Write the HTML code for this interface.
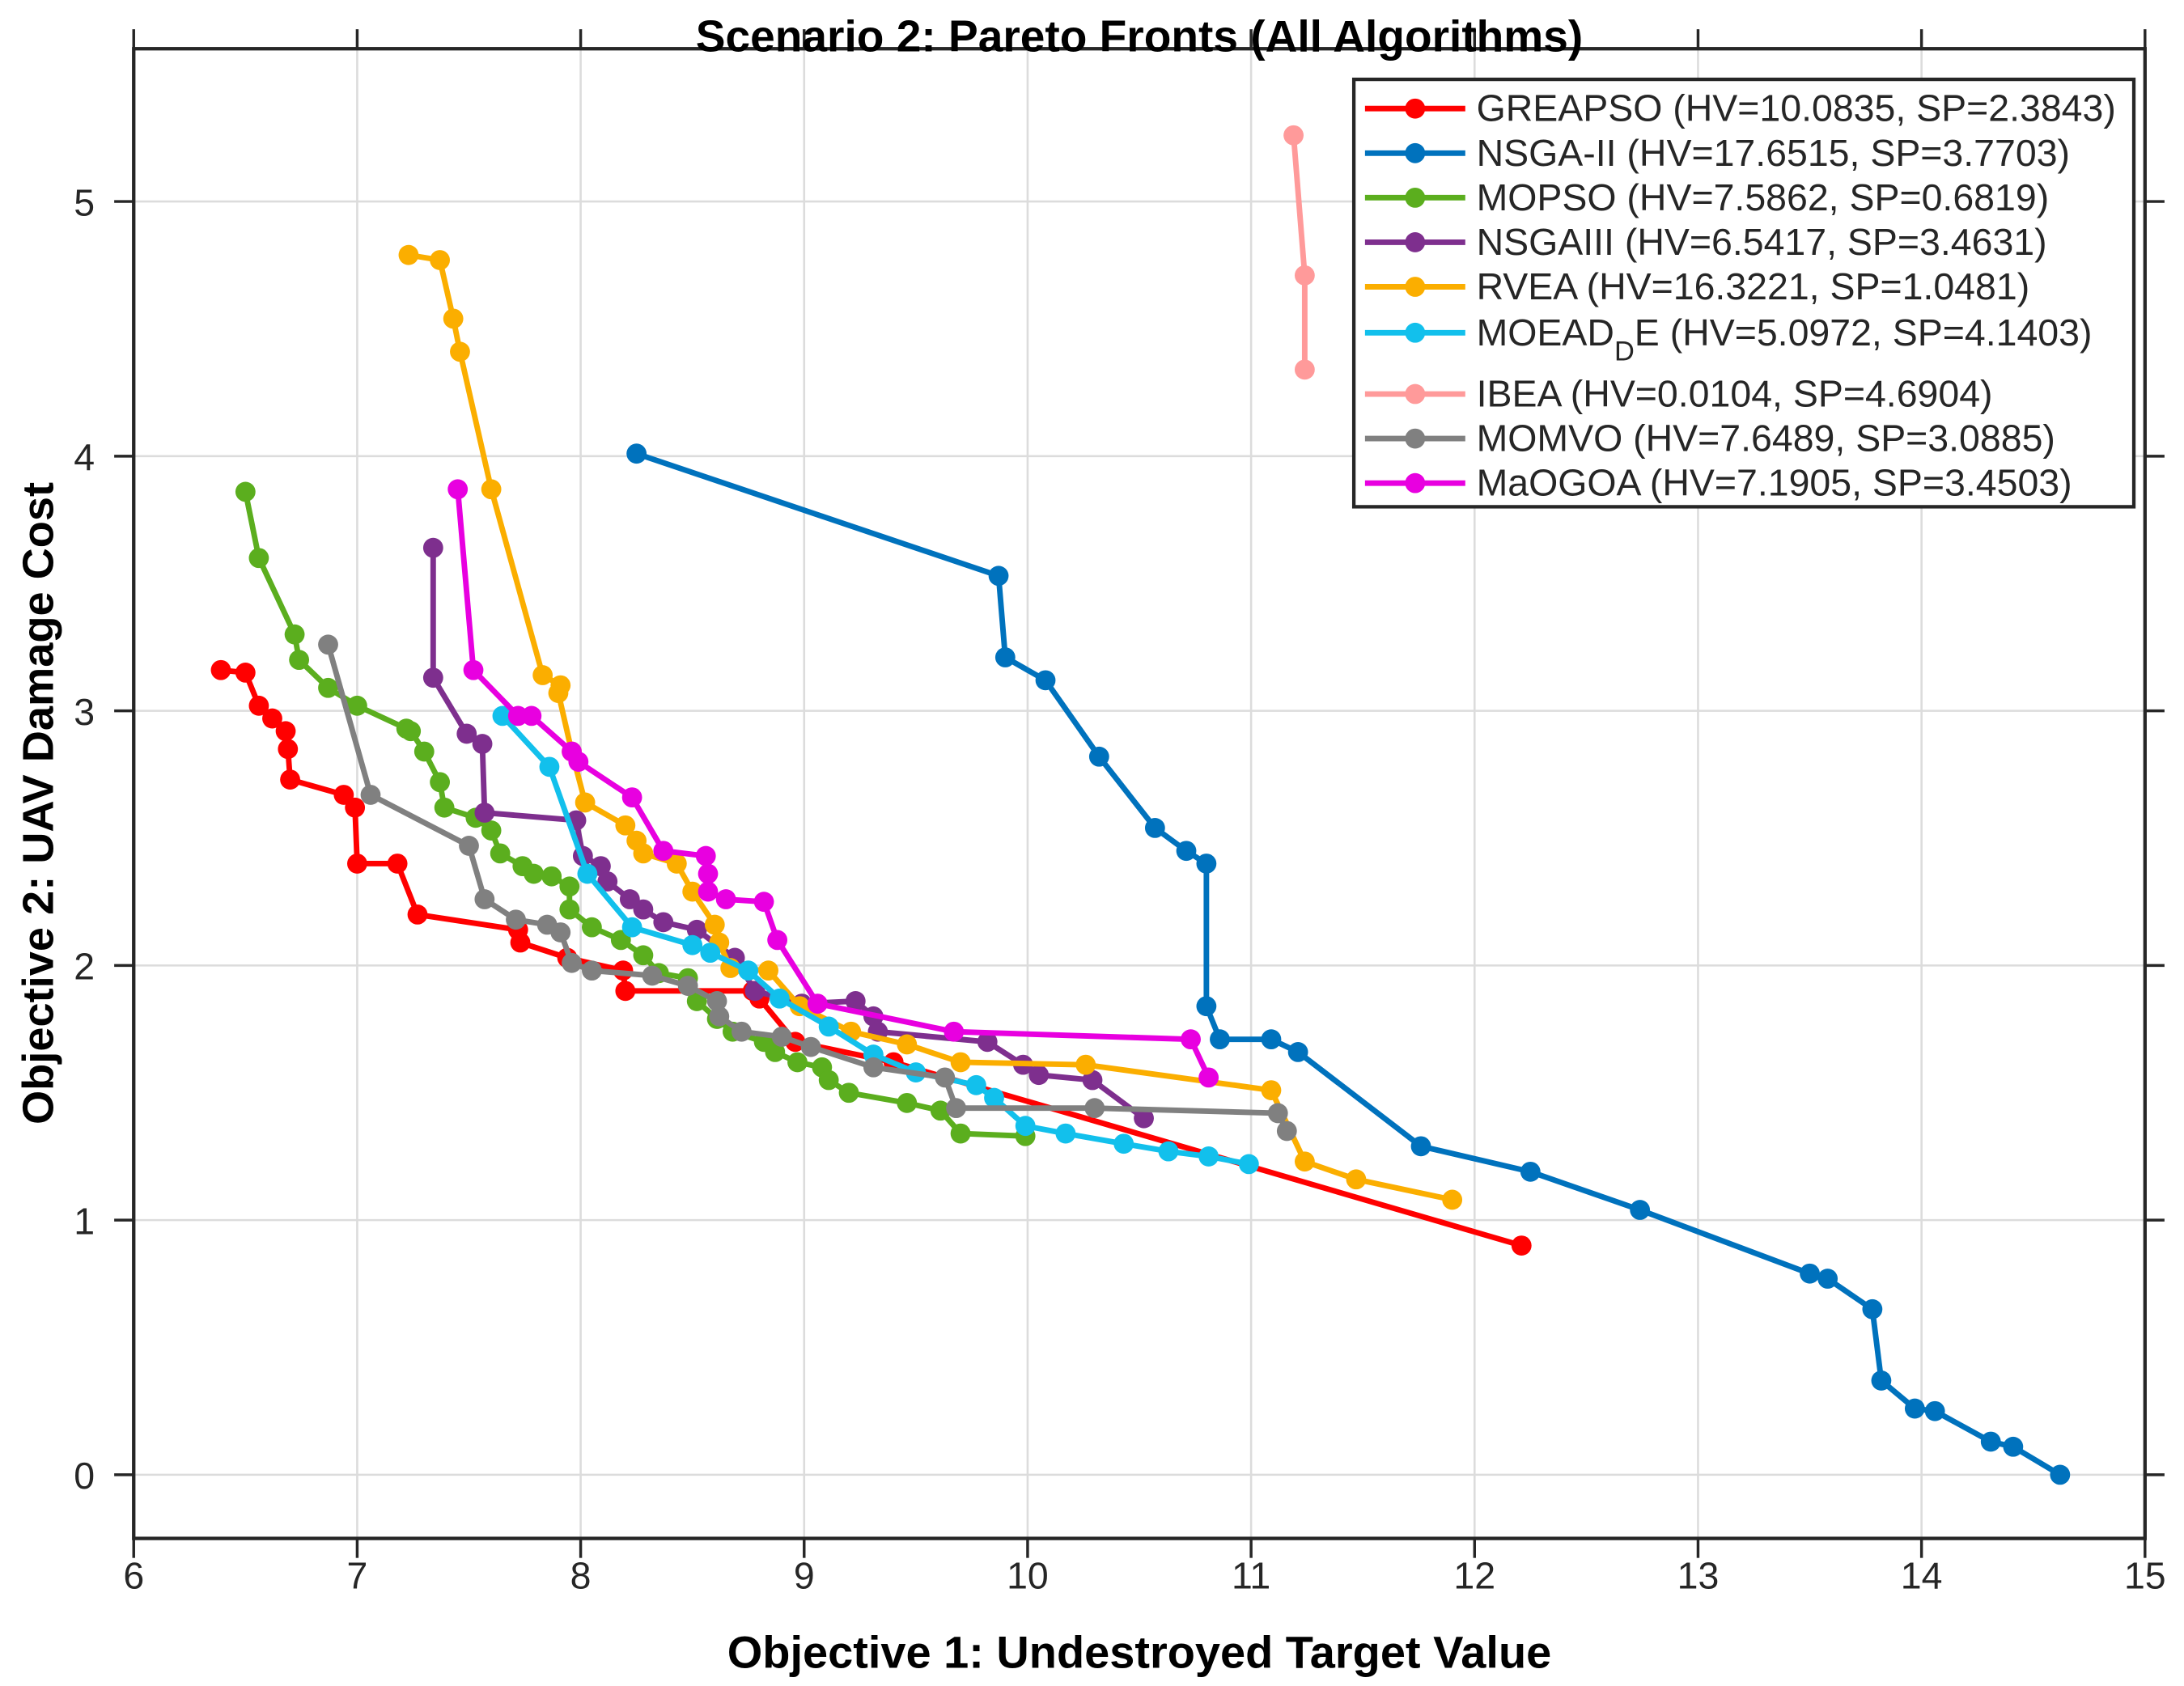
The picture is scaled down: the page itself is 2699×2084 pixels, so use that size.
<!DOCTYPE html>
<html><head><meta charset="utf-8"><style>
html,body{margin:0;padding:0;background:#fff;}
svg{display:block;font-family:"Liberation Sans",Arial,sans-serif;}
</style></head><body>
<svg id="chart" width="2699" height="2084" viewBox="0 0 1568 1211" preserveAspectRatio="none" xmlns="http://www.w3.org/2000/svg">
<rect x="0" y="0" width="1568" height="1211" fill="#fff"/>
<g id="grid"></g>
<g id="series"></g>
<g id="axes"></g>
<text x="818" y="37" text-anchor="middle" font-size="32" font-weight="bold">Scenario 2: Pareto Fronts (All Algorithms)</text>
<text x="818" y="1198" text-anchor="middle" font-size="32.5" font-weight="bold">Objective 1: Undestroyed Target Value</text>
<text transform="translate(38,577) rotate(-90)" text-anchor="middle" font-size="31.5" font-weight="bold">Objective 2: UAV Damage Cost</text>
<g id="legend"></g>
</svg>
<script>
const xTicks=[6,7,8,9,10,11,12,13,14,15];
const yTicks=[0,1,2,3,4,5];
const names=["GREAPSO (HV=10.0835, SP=2.3843)","NSGA-II (HV=17.6515, SP=3.7703)","MOPSO (HV=7.5862, SP=0.6819)","NSGAIII (HV=6.5417, SP=3.4631)","RVEA (HV=16.3221, SP=1.0481)","MOEAD_DE (HV=5.0972, SP=4.1403)","IBEA (HV=0.0104, SP=4.6904)","MOMVO (HV=7.6489, SP=3.0885)","MaOGOA (HV=7.1905, SP=3.4503)"];
const colors=["#ff0000","#0072bd","#5bae1e","#7e2f8e","#fbae00","#12c0ec","#ff9a9a","#808080","#e800e0"];
const greapsoX=[6.39,6.50,6.56,6.62,6.68,6.69,6.70,6.94,6.99,7.00,7.18,7.27,7.72,7.73,7.94,8.19,8.20,8.77,8.80,8.96,9.40,12.21];
const greapsoY=[3.16,3.15,3.02,2.97,2.92,2.85,2.73,2.67,2.62,2.40,2.40,2.20,2.14,2.09,2.03,1.98,1.90,1.90,1.87,1.70,1.62,0.90];
const nsga2X=[8.25,9.87,9.90,10.08,10.32,10.57,10.71,10.80,10.80,10.86,11.09,11.21,11.76,12.25,12.74,13.50,13.58,13.78,13.82,13.97,14.06,14.31,14.41,14.62];
const nsga2Y=[4.01,3.53,3.21,3.12,2.82,2.54,2.45,2.40,1.84,1.71,1.71,1.66,1.29,1.19,1.04,0.79,0.77,0.65,0.37,0.26,0.25,0.13,0.11,0.00];
const mopsoX=[6.50,6.56,6.72,6.74,6.87,7.00,7.22,7.24,7.30,7.37,7.39,7.53,7.60,7.64,7.74,7.79,7.87,7.95,7.95,8.05,8.18,8.28,8.35,8.48,8.52,8.61,8.68,8.82,8.87,8.97,9.08,9.11,9.20,9.46,9.61,9.70,9.99];
const mopsoY=[3.86,3.60,3.30,3.20,3.09,3.02,2.93,2.92,2.84,2.72,2.62,2.58,2.53,2.44,2.39,2.36,2.35,2.31,2.22,2.15,2.10,2.04,1.97,1.95,1.86,1.79,1.74,1.70,1.66,1.62,1.60,1.55,1.50,1.46,1.43,1.34,1.33];
const nsga3X=[7.34,7.34,7.49,7.56,7.57,7.98,8.01,8.09,8.12,8.22,8.28,8.37,8.52,8.69,8.78,8.99,9.23,9.31,9.33,9.82,9.98,10.05,10.29,10.52];
const nsga3Y=[3.64,3.13,2.91,2.87,2.60,2.57,2.43,2.39,2.33,2.26,2.22,2.17,2.14,2.03,1.90,1.85,1.86,1.80,1.74,1.70,1.61,1.57,1.55,1.40];
const rveaX=[7.23,7.37,7.43,7.46,7.60,7.83,7.91,7.90,7.96,8.02,8.20,8.25,8.28,8.43,8.50,8.60,8.62,8.67,8.84,8.98,9.21,9.46,9.70,10.26,11.09,11.24,11.47,11.90];
const rveaY=[4.79,4.77,4.54,4.41,3.87,3.14,3.10,3.07,2.84,2.64,2.55,2.49,2.44,2.40,2.29,2.16,2.09,1.99,1.98,1.84,1.74,1.69,1.62,1.61,1.51,1.23,1.16,1.08];
const moeadX=[7.65,7.86,8.03,8.23,8.50,8.58,8.75,8.89,9.11,9.31,9.50,9.77,9.85,9.99,10.17,10.43,10.63,10.81,10.99];
const moeadY=[2.98,2.78,2.36,2.15,2.08,2.05,1.98,1.87,1.76,1.65,1.58,1.53,1.48,1.37,1.34,1.30,1.27,1.25,1.22];
const ibeaX=[11.19,11.24,11.24];
const ibeaY=[5.26,4.71,4.34];
const momvoX=[6.87,7.06,7.50,7.57,7.71,7.85,7.91,7.96,8.05,8.32,8.48,8.61,8.62,8.72,8.90,9.03,9.31,9.63,9.68,10.30,11.12,11.16];
const momvoY=[3.26,2.67,2.47,2.26,2.18,2.16,2.13,2.01,1.98,1.96,1.92,1.86,1.80,1.74,1.72,1.68,1.60,1.56,1.44,1.44,1.42,1.35];
const maogoaX=[7.45,7.52,7.72,7.78,7.96,7.99,8.23,8.37,8.56,8.57,8.57,8.65,8.82,8.88,9.06,9.67,10.73,10.81];
const maogoaY=[3.87,3.16,2.98,2.98,2.84,2.80,2.66,2.45,2.43,2.36,2.29,2.26,2.25,2.10,1.85,1.74,1.71,1.56];

const NS="http://www.w3.org/2000/svg";
const L=96,R=1540,T=35,B=1105,X0=6,X1=15,Y0=-0.25,Y1=5.6;
function sx(v){return L+(v-X0)/(X1-X0)*(R-L);}
function sy(v){return B-(v-Y0)/(Y1-Y0)*(B-T);}
function mk(tag,attrs,parent){const e=document.createElementNS(NS,tag);for(const k in attrs)e.setAttribute(k,attrs[k]);parent.appendChild(e);return e;}
const grid=document.getElementById('grid'),axes=document.getElementById('axes'),ser=document.getElementById('series'),leg=document.getElementById('legend');
xTicks.forEach(t=>{const x=sx(t);
 let g=mk('line',{x1:x,x2:x,y1:T,y2:B,stroke:'#dcdcdc','stroke-width':1.5},grid);
 
 mk('line',{x1:x,x2:x,y1:B,y2:B+14,stroke:'#262626','stroke-width':2},axes);
 mk('line',{x1:x,x2:x,y1:T-14,y2:T,stroke:'#262626','stroke-width':2},axes);
 let tx=mk('text',{x:x,y:B+36,'text-anchor':'middle','font-size':27,fill:'#262626'},axes);tx.textContent=t;
 });
yTicks.forEach(t=>{const y=sy(t);
 let g=mk('line',{x1:L,x2:R,y1:y,y2:y,stroke:'#dcdcdc','stroke-width':1.5},grid);
 
 mk('line',{x1:L-14,x2:L,y1:y,y2:y,stroke:'#262626','stroke-width':2},axes);
 mk('line',{x1:R,x2:R+14,y1:y,y2:y,stroke:'#262626','stroke-width':2},axes);
 let tx=mk('text',{x:L-28,y:y+10,'text-anchor':'end','font-size':27,fill:'#262626'},axes);tx.textContent=t;
 });
let box=mk('rect',{x:L,y:T,width:R-L,height:B-T,fill:'none',stroke:'#262626','stroke-width':2.5},axes);

const seriesData=[[greapsoX,greapsoY],[nsga2X,nsga2Y],[mopsoX,mopsoY],[nsga3X,nsga3Y],[rveaX,rveaY],[moeadX,moeadY],[ibeaX,ibeaY],[momvoX,momvoY],[maogoaX,maogoaY]];
const keys=['greapso','nsga2','mopso','nsga3','rvea','moead-de','ibea','momvo','maogoa'];
seriesData.forEach((d,i)=>{const g=mk('g',{},ser);
 
 
 const pts=d[0].map((x,j)=>sx(x)+','+sy(d[1][j])).join(' ');
 mk('polyline',{points:pts,fill:'none',stroke:colors[i],'stroke-width':4,'stroke-linejoin':'round'},g);
 d[0].forEach((x,j)=>{const c=mk('circle',{cx:sx(x),cy:sy(d[1][j]),r:7.2,fill:colors[i]},g);
  
  });});
// legend
mk('rect',{x:972,y:57,width:560,height:307,fill:'#fff',stroke:'#262626','stroke-width':2.5},leg);
const rows=[78,110,142,174,206,239,283,315,347];
names.forEach((n,i)=>{const y=rows[i];const g=mk('g',{},leg);
 
 
 mk('line',{x1:980,x2:1052,y1:y,y2:y,stroke:colors[i],'stroke-width':4},g);
 mk('circle',{cx:1016,cy:y,r:7.2,fill:colors[i]},g);
 const t=mk('text',{x:1060,y:y+9,'font-size':27,fill:'#262626'},g);
 if(n.indexOf('MOEAD_DE')===0){t.textContent='MOEAD';const s=mk('tspan',{dy:11,'font-size':20},t);s.textContent='D';const s2=mk('tspan',{dy:-11},t);s2.textContent='E (HV=5.0972, SP=4.1403)';}
 else t.textContent=n;});
</script>
</body></html>
